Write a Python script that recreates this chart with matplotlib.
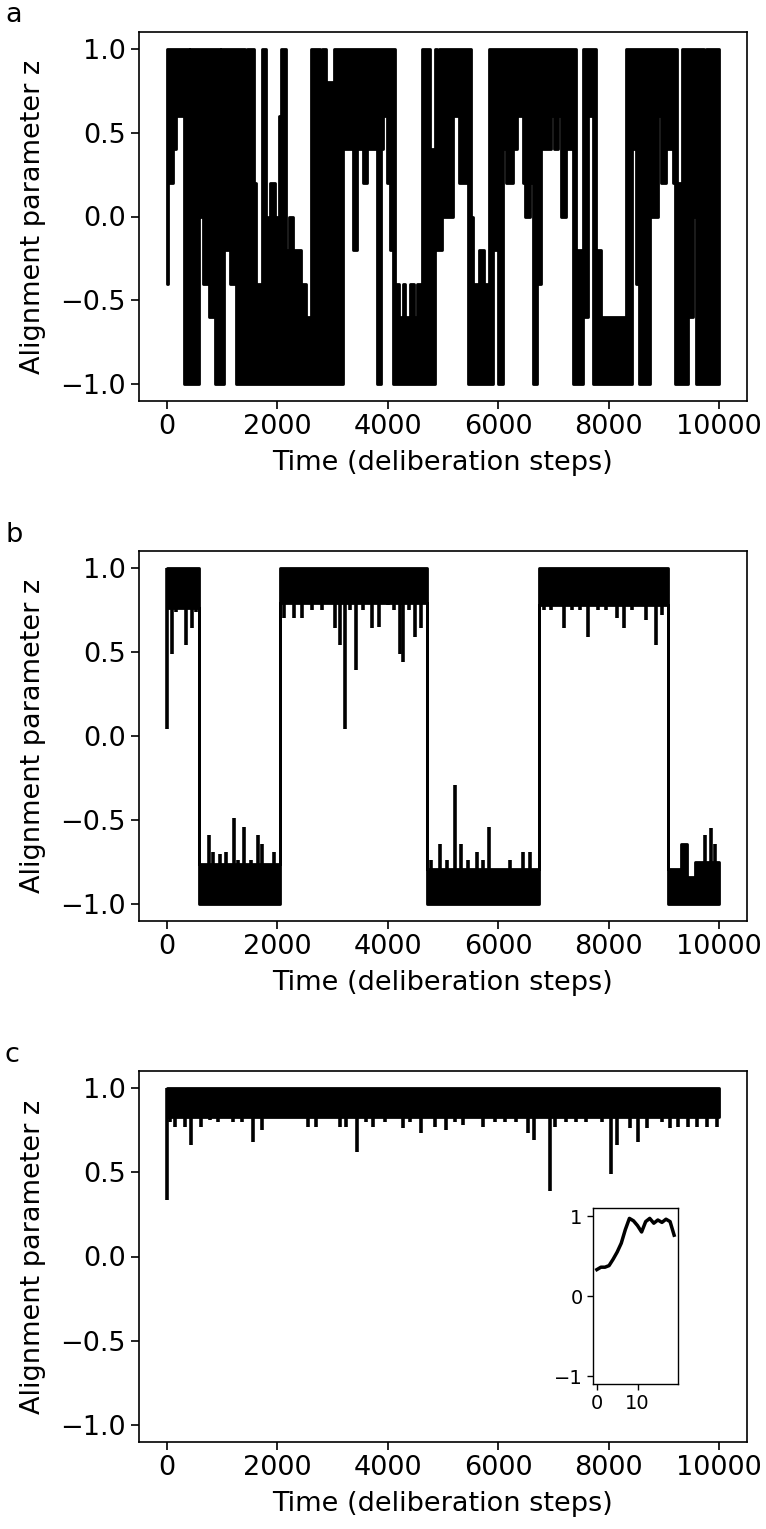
import numpy as np
import matplotlib
matplotlib.use('Agg')
import matplotlib.pyplot as plt

T_END = 10000

# --- panel a: envelope of the trace, one entry per stretch (start step, min z, max z)
a_t0 = [0, 25, 110, 170, 320, 400, 430, 580, 665, 770, 880, 960, 990, 1030, 1150,
        1250, 1410, 1452, 1573, 1621, 1730, 1791, 1833, 1876, 1954, 1984, 2027,
        2075, 2154, 2214, 2287, 2347, 2438, 2529, 2620, 2780, 2815, 2880, 3025,
        3190, 3376, 3436, 3557, 3630, 3800, 3873, 3920, 3980, 4040, 4103, 4133,
        4210, 4270, 4320, 4410, 4470, 4530, 4617, 4768, 4859, 4900, 4930, 4980,
        5173, 5293, 5444, 5505, 5535, 5656, 5746, 5837, 5900, 5988, 6079, 6139,
        6260, 6332, 6441, 6489, 6574, 6622, 6695, 6773, 6954, 7015, 7075, 7135,
        7226, 7347, 7407, 7540, 7619, 7709, 7770, 7860, 8313, 8422, 8494, 8555,
        8748, 8887, 8948, 9038, 9159, 9189, 9230, 9328, 9431, 9521, 9582, 9720,
        9763]
a_lo = [-0.4, 0.2, 0.4, 0.6, -1.0, -1.0, -1.0, 0.0, -0.4, -0.6, -1.0, -1.0, -1.0, -0.2, -0.4,
        -1.0, -1.0, -1.0, -1.0, -1.0, -1.0, -1.0, -1.0, -1.0, -1.0, -1.0, -1.0,
        -1.0, -1.0, -1.0, -1.0, -1.0, -1.0, -1.0, -1.0, -1.0, -1.0, -1.0, -1.0,
        0.4, -0.2, 0.4, 0.2, 0.4, -1.0, 0.4, 0.6, 0.2, -0.2, -1.0, -1.0,
        -1.0, -1.0, -1.0, -1.0, -1.0, -1.0, -1.0, -1.0, -0.2, -0.2, -0.2, 0.0,
        0.6, 0.2, -1.0, -1.0, -1.0, -1.0, -1.0, -1.0, -0.2, -1.0, 0.4, 0.2,
        0.4, 0.6, 0.2, 0.0, 0.2, -1.0, -0.4, 0.4, 0.6, 0.4, 0.6, 0.0,
        0.4, -1.0, -1.0, -0.6, 0.6, -1.0, -1.0, -1.0, -1.0, 0.4, -0.4, -1.0,
        0.0, 0.6, 0.2, 0.4, 0.2, -1.0, -1.0, -1.0, -0.6, 0.0, -1.0, -1.0,
        -1.0]
a_hi = [1.0, 1.0, 1.0, 1.0, 1.0, 0.2, 1.0, 1.0, 1.0, 1.0, 1.0, 0.4, 1.0, 1.0, 1.0,
        1.0, -0.2, 1.0, 0.2, -0.4, 1.0, -0.4, 0.0, 0.2, -0.4, 0.0, 0.6,
        1.0, -0.2, 0.0, -0.2, -0.2, -0.4, -0.6, 1.0, 0.0, 1.0, 0.8, 1.0,
        1.0, 1.0, 1.0, 1.0, 1.0, 1.0, 1.0, 1.0, 1.0, 1.0, 1.0, -0.4,
        -0.6, -0.4, -0.6, -0.4, -0.6, -0.4, 1.0, 0.4, 1.0, 0.4, 1.0, 1.0,
        1.0, 1.0, 1.0, 0.0, -0.4, -0.2, -0.4, 1.0, 1.0, 1.0, 1.0, 1.0,
        1.0, 1.0, 1.0, 1.0, 1.0, 1.0, 1.0, 1.0, 1.0, 1.0, 1.0, 1.0,
        1.0, 1.0, -0.2, 1.0, 1.0, 1.0, -0.2, -0.6, 1.0, 1.0, 1.0, 1.0,
        1.0, 1.0, 1.0, 1.0, 1.0, 1.0, 0.2, 1.0, 1.0, 1.0, 1.0, 0.8,
        1.0]

# --- panel b: flat-topped bands, then the single excursions out of them
b_t0 = [0, 585, 2053, 4717, 6744, 9071, 9300, 9410, 9560]
b_lo = [0.76, -1.0, 0.79, -1.0, 0.78, -1.0, -1.0, -1.0, -1.0]
b_hi = [1.0, -0.76, 1.0, -0.79, 1.0, -0.79, -0.64, -0.84, -0.75]
b_dip_t = [10, 103, 165, 356, 452, 530, 2124, 2300, 2450, 2628, 2805, 3053, 3142,
           3230, 3319, 3425, 3558, 3720, 3850, 4000, 4115, 4221, 4283, 4381, 4487,
           4593, 6830, 6950, 7186, 7340, 7480, 7629, 7800, 7950, 8150, 8274, 8420,
           8673, 8850, 8960]
b_dip_z = [0.04, 0.49, 0.74, 0.54, 0.64, 0.74, 0.70, 0.70, 0.70, 0.75, 0.75, 0.64, 0.54,
           0.04, 0.75, 0.39, 0.75, 0.64, 0.65, 0.78, 0.75, 0.49, 0.44, 0.75, 0.59,
           0.64, 0.75, 0.75, 0.64, 0.75, 0.75, 0.59, 0.75, 0.75, 0.70, 0.64, 0.75,
           0.69, 0.54, 0.72]
b_peak_t = [770, 840, 960, 1072, 1213, 1300, 1406, 1520, 1647, 1720, 1950, 4790,
            4947, 5080, 5213, 5328, 5450, 5620, 5720, 5832, 6213, 6451, 6567,
            9735, 9841, 9930]
b_peak_z = [-0.59, -0.69, -0.70, -0.69, -0.49, -0.74, -0.54, -0.74, -0.59, -0.64, -0.69, -0.74,
            -0.64, -0.74, -0.29, -0.64, -0.74, -0.69, -0.74, -0.54, -0.74, -0.69, -0.69,
            -0.59, -0.545, -0.64]

# --- panel c: one band near z = 1 and its dips
c_t0 = [0]
c_lo = [0.83]
c_hi = [1.0]
c_dip_t = [5, 65, 145, 340, 447, 628, 790, 930, 1085, 1205, 1370, 1563, 1732, 1865,
           2166, 2558, 2697, 2860, 3131, 3252, 3445, 3613, 3734, 3945, 4277, 4398,
           4609, 4850, 5062, 5213, 5364, 5726, 5937, 6118, 6329, 6540, 6642, 6944,
           7023, 7234, 7415, 7596, 7868, 8036, 8151, 8380, 8531, 8682, 8954, 9105,
           9256, 9437, 9588, 9769, 9950]
c_dip_z = [0.335, 0.80, 0.77, 0.77, 0.66, 0.77, 0.81, 0.80, 0.82, 0.80, 0.80, 0.68, 0.75, 0.82,
           0.82, 0.77, 0.77, 0.82, 0.77, 0.77, 0.62, 0.80, 0.77, 0.80, 0.76, 0.80,
           0.73, 0.77, 0.75, 0.80, 0.78, 0.77, 0.80, 0.80, 0.80, 0.73, 0.69, 0.39,
           0.77, 0.80, 0.80, 0.80, 0.80, 0.49, 0.66, 0.76, 0.68, 0.76, 0.80, 0.76,
           0.77, 0.77, 0.77, 0.77, 0.77]

# inset: first 20 steps of panel c
inset_t = list(range(20))
inset_z = [0.33, 0.36, 0.36, 0.38, 0.46, 0.55, 0.66, 0.83, 0.97, 0.94,
           0.88, 0.80, 0.93, 0.97, 0.91, 0.95, 0.92, 0.96, 0.93, 0.76]

FS = 19.5
LW = 2.0


def draw_band(ax, t0, lo, hi):
    t = np.append(t0, T_END)
    lo = np.append(lo, lo[-1])
    hi = np.append(hi, hi[-1])
    ax.fill_between(t, lo, hi, step='post', facecolor='black',
                    edgecolor='black', linewidth=LW)


def style(ax, letter, y_letter):
    ax.set_xlim(-500, 10500)
    ax.set_ylim(-1.1, 1.1)
    ax.set_xticks([0, 2000, 4000, 6000, 8000, 10000])
    ax.set_yticks([-1.0, -0.5, 0.0, 0.5, 1.0])
    ax.set_yticklabels(['\u22121.0', '\u22120.5', '0.0', '0.5', '1.0'])
    ax.tick_params(labelsize=FS, length=6, width=1.2)
    for s in ax.spines.values():
        s.set_linewidth(1.2)
    ax.set_xlabel('Time (deliberation steps)', fontsize=FS, labelpad=7)
    ax.set_ylabel('Alignment parameter z', fontsize=FS, labelpad=10)
    fig.text(5 / 766, 1 - y_letter / 1529, letter, fontsize=FS, va='baseline', ha='left')


fig = plt.figure(figsize=(7.66, 15.29), dpi=100)
W, H = 766, 1529


def px_axes(left, top, right, bottom):
    return fig.add_axes([left / W, 1 - bottom / H, (right - left) / W, (bottom - top) / H])


ax_a = px_axes(139, 32, 747, 401)
ax_b = px_axes(139, 551, 747, 921)
ax_c = px_axes(139, 1071, 747, 1442)

# panel a
draw_band(ax_a, a_t0, a_lo, a_hi)
style(ax_a, 'a', 22)

# panel b
draw_band(ax_b, b_t0, b_lo, b_hi)
ax_b.vlines(b_dip_t, 1.0, b_dip_z, color='black', linewidth=2.6)
ax_b.vlines(b_peak_t, -1.0, b_peak_z, color='black', linewidth=2.6)
style(ax_b, 'b', 542)

# panel c
draw_band(ax_c, c_t0, c_lo, c_hi)
ax_c.vlines(c_dip_t, 1.0, c_dip_z, color='black', linewidth=2.6)
style(ax_c, 'c', 1062)

ins = px_axes(593, 1208, 678, 1384)
ins.plot(inset_t, inset_z, color='black', linewidth=2.5)
ins.set_ylim(-1.1, 1.1)
ins.set_yticks([-1, 0, 1])
ins.set_yticklabels(['\u22121', '0', '1'])
ins.set_xticks([0, 10])
ins.tick_params(labelsize=14, length=4, width=1.0)
for s in ins.spines.values():
    s.set_linewidth(1.0)

fig.savefig('out.png', dpi=100)
